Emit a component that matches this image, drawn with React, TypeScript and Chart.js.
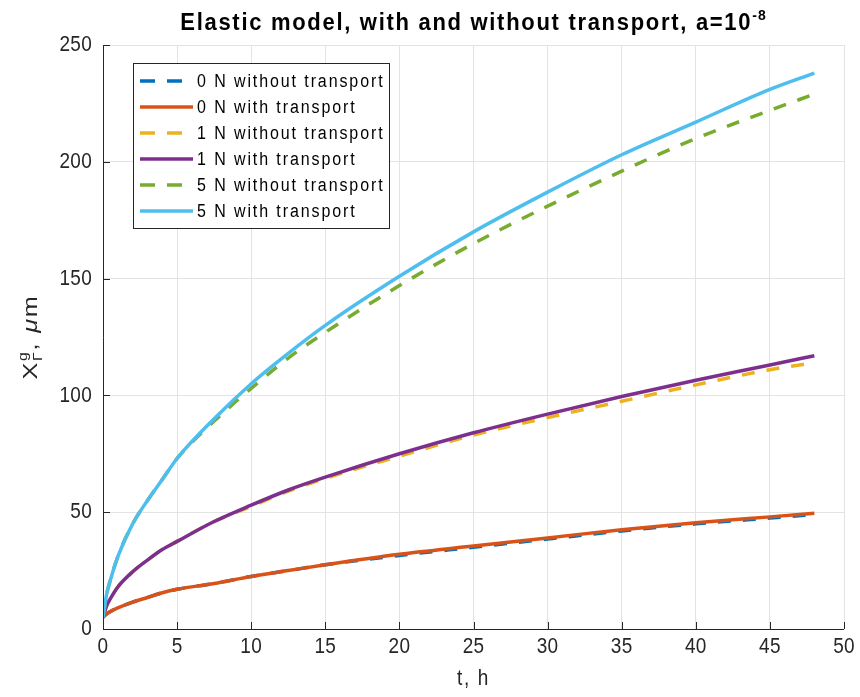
import { useEffect, useRef } from "react";
import { Chart, registerables } from "chart.js";

Chart.register(...registerables);

// Time samples, hours
const hours = [0, 0.25, 0.5, 1, 2, 3, 4, 5, 7.5, 10, 12.5, 15, 20, 25, 30, 35, 40, 45, 48];

// Interface position X_Γ^g, μm
const n0Without = [5, 6.5, 7.5, 9, 11.5, 13.5, 15.5, 17, 19.5, 22.5, 25, 27.5, 31.5, 35, 38.5, 42, 45, 47.5, 49];
const n0With = [5, 6.5, 7.5, 9, 11.5, 13.5, 15.5, 17, 19.5, 22.5, 25, 27.5, 32, 35.5, 39, 42.5, 45.5, 48, 49.5];
const n1Without = [5, 10, 13, 18, 24.5, 29.5, 34, 37.5, 46, 52.5, 59, 64.5, 74, 83, 90.5, 97.5, 104.5, 111, 114];
const n1With = [5, 10, 13, 18, 24.5, 29.5, 34, 37.5, 46, 53, 59.5, 65, 75, 84, 92, 99.5, 106.5, 113, 117];
const n5Without = [5, 15, 21, 31, 45, 55, 64, 73, 89, 103, 116, 127, 147, 165, 181, 196, 210, 222, 229];
const n5With = [5, 15, 21, 31, 45, 55, 64, 73, 90, 105, 118, 130, 151, 170, 187, 203, 217, 231, 238];

const seriesLabels = [
  "0 N without transport",
  "0 N with transport",
  "1 N without transport",
  "1 N with transport",
  "5 N without transport",
  "5 N with transport",
];
const seriesValues = [n0Without, n0With, n1Without, n1With, n5Without, n5With];
const seriesColors = ["#0072BD", "#D95319", "#EDB120", "#7E2F8E", "#77AC30", "#4DBEEE"];
const seriesDashed = [true, false, true, false, true, false];

const xTicks = [0, 5, 10, 15, 20, 25, 30, 35, 40, 45, 50];
const yTicks = [0, 50, 100, 150, 200, 250];

const titleMain = "Elastic model, with and without transport, a=10";
const titleExp = "-8";
const xTitle = "t, h";

const FONT = '"Liberation Sans", Arial, Helvetica, sans-serif';
const AXIS_COLOR = "#262626";
const DASH = [13, 12];
// glyphs in this figure are drawn taller than they are wide
const STRETCH = 1.2;

function drawText(
  ctx: CanvasRenderingContext2D,
  str: string,
  x: number,
  y: number,
  font: string,
  spacing: number,
  align: CanvasTextAlign,
  baseline: CanvasTextBaseline,
  color: string,
  sx = 1,
  sy = STRETCH
) {
  ctx.save();
  ctx.font = font;
  (ctx as any).letterSpacing = spacing + "px";
  ctx.textAlign = align;
  ctx.textBaseline = baseline;
  ctx.fillStyle = color;
  ctx.translate(x, y);
  ctx.scale(sx, sy);
  ctx.fillText(str, 0, 0);
  ctx.restore();
}

function measure(ctx: CanvasRenderingContext2D, str: string, font: string, spacing: number) {
  ctx.save();
  ctx.font = font;
  (ctx as any).letterSpacing = spacing + "px";
  const w = ctx.measureText(str).width;
  ctx.restore();
  return w;
}

const decorPlugin = {
  id: "decor",
  afterDraw(chart: any) {
    const ctx: CanvasRenderingContext2D = chart.ctx;
    const area = chart.chartArea;
    const xs = chart.scales.x;
    const ys = chart.scales.y;
    ctx.save();

    // axis lines (left and bottom)
    ctx.strokeStyle = AXIS_COLOR;
    ctx.lineWidth = 1;
    ctx.setLineDash([]);
    ctx.beginPath();
    ctx.moveTo(Math.round(area.left) + 0.5, area.top);
    ctx.lineTo(Math.round(area.left) + 0.5, Math.round(area.bottom) + 0.5);
    ctx.lineTo(area.right, Math.round(area.bottom) + 0.5);
    ctx.stroke();

    // inward tick marks
    const tickLen = 7;
    ctx.beginPath();
    for (const v of xTicks) {
      const px = Math.round(xs.getPixelForValue(v)) + 0.5;
      ctx.moveTo(px, area.bottom);
      ctx.lineTo(px, area.bottom - tickLen);
    }
    for (const v of yTicks) {
      const py = Math.round(ys.getPixelForValue(v)) + 0.5;
      ctx.moveTo(area.left, py);
      ctx.lineTo(area.left + tickLen, py);
    }
    ctx.stroke();

    // tick labels
    const tickFont = `19px ${FONT}`;
    for (const v of xTicks) {
      drawText(ctx, String(v), xs.getPixelForValue(v), area.bottom + 18, tickFont, 0.3, "center", "middle", AXIS_COLOR);
    }
    for (const v of yTicks) {
      drawText(ctx, String(v), area.left - 11, ys.getPixelForValue(v), tickFont, 0.3, "right", "middle", AXIS_COLOR);
    }

    const cx = (area.left + area.right) / 2;
    const cy = (area.top + area.bottom) / 2;

    // title with superscript exponent
    const tFont = `bold 22px ${FONT}`;
    const sFont = `bold 14px ${FONT}`;
    const w1 = measure(ctx, titleMain, tFont, 1.7);
    const w2 = measure(ctx, titleExp, sFont, 1);
    const tx = cx - (w1 + w2) / 2;
    drawText(ctx, titleMain, tx, 30, tFont, 1.7, "left", "alphabetic", "#000", 1, 1.05);
    drawText(ctx, titleExp, tx + w1, 20, sFont, 1, "left", "alphabetic", "#000", 1, 1.05);

    // x axis title
    drawText(ctx, xTitle, cx, 685, `19px ${FONT}`, 1.6, "center", "alphabetic", AXIS_COLOR);

    // y axis title: X with sub Γ / sup g, then ", μm" (rotated, stretched along the text)
    ctx.save();
    ctx.translate(37, cy);
    ctx.rotate(-Math.PI / 2);
    const mainF = `21px ${FONT}`;
    const smallF = `13px ${FONT}`;
    const itF = `italic 21px ${FONT}`;
    const sp = 1.5;
    const wX = measure(ctx, "X", mainF, sp) * STRETCH;
    const wS = Math.max(measure(ctx, "g", smallF, sp), measure(ctx, "Γ", smallF, sp)) * STRETCH;
    const wC = measure(ctx, ", ", mainF, sp) * STRETCH;
    const wMu = measure(ctx, "μ", itF, sp) * STRETCH;
    const wM = measure(ctx, "m", mainF, sp) * STRETCH;
    let lx = -(wX + wS + wC + wMu + wM) / 2;
    drawText(ctx, "X", lx, 0, mainF, sp, "left", "alphabetic", AXIS_COLOR, STRETCH, 1);
    lx += wX;
    drawText(ctx, "g", lx, -10, smallF, sp, "left", "alphabetic", AXIS_COLOR, STRETCH, 1);
    drawText(ctx, "Γ", lx, 5, smallF, sp, "left", "alphabetic", AXIS_COLOR, STRETCH, 1);
    lx += wS;
    drawText(ctx, ", ", lx, 0, mainF, sp, "left", "alphabetic", AXIS_COLOR, STRETCH, 1);
    lx += wC;
    drawText(ctx, "μ", lx, 0, itF, sp, "left", "alphabetic", AXIS_COLOR, STRETCH, 1);
    lx += wMu;
    drawText(ctx, "m", lx, 0, mainF, sp, "left", "alphabetic", AXIS_COLOR, STRETCH, 1);
    ctx.restore();

    // legend box
    const bx = 133.5, by = 63.5, bw = 256, bh = 165;
    ctx.fillStyle = "#fff";
    ctx.fillRect(bx, by, bw, bh);
    ctx.strokeStyle = AXIS_COLOR;
    ctx.lineWidth = 1;
    ctx.setLineDash([]);
    ctx.strokeRect(bx, by, bw, bh);
    const legFont = `16px ${FONT}`;
    seriesLabels.forEach((label, i) => {
      const ry = 81 + i * 26;
      ctx.strokeStyle = seriesColors[i];
      ctx.lineWidth = 3.5;
      ctx.lineCap = "butt";
      ctx.setLineDash(seriesDashed[i] ? [15, 12] : []);
      ctx.beginPath();
      ctx.moveTo(140, ry);
      ctx.lineTo(193, ry);
      ctx.stroke();
      ctx.setLineDash([]);
      drawText(ctx, label, 197, ry + 1, legFont, 1.9, "left", "middle", "#000", 1, 1.1);
    });

    ctx.restore();
  },
};

export default function App() {
  const canvasRef = useRef<HTMLCanvasElement | null>(null);

  useEffect(() => {
    const canvas = canvasRef.current;
    if (!canvas) return;
    const datasets = seriesValues.map((vals, i) => ({
      label: seriesLabels[i],
      data: hours.map((t, k) => ({ x: t, y: vals[k] })),
      borderColor: seriesColors[i],
      backgroundColor: seriesColors[i],
      borderWidth: 3.5,
      borderDash: seriesDashed[i] ? DASH : [],
      borderCapStyle: "butt" as const,
      pointRadius: 0,
      cubicInterpolationMode: "monotone" as const,
      fill: false,
      order: seriesValues.length - 1 - i,
    }));
    const chart = new Chart(canvas, {
      type: "line",
      data: { datasets },
      options: {
        animation: false,
        responsive: false,
        devicePixelRatio: 1,
        layout: { padding: { left: 0, top: 45, right: 16, bottom: 0 } },
        plugins: {
          legend: { display: false },
          title: { display: false },
          tooltip: { enabled: false },
        },
        scales: {
          x: {
            type: "linear",
            min: 0,
            max: 50,
            ticks: { stepSize: 5, display: false },
            grid: { color: "#e3e3e3", lineWidth: 1, drawTicks: false },
            border: { display: false },
            afterFit: (s: any) => {
              s.height = 68;
            },
          },
          y: {
            type: "linear",
            min: 0,
            max: 250,
            ticks: { stepSize: 50, display: false },
            grid: { color: "#e3e3e3", lineWidth: 1, drawTicks: false },
            border: { display: false },
            afterFit: (s: any) => {
              s.width = 103;
            },
          },
        },
      },
      plugins: [decorPlugin],
    });
    return () => chart.destroy();
  }, []);

  return (
    <div style={{ position: "absolute", left: 0, top: 0, width: 860, height: 697, background: "#fff" }}>
      <canvas ref={canvasRef} width={860} height={697} style={{ display: "block" }} />
    </div>
  );
}
